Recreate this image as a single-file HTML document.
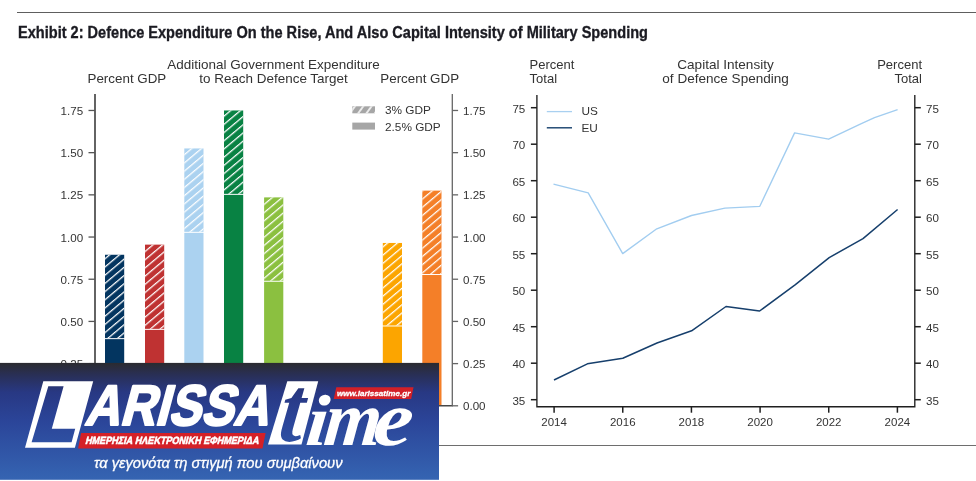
<!DOCTYPE html>
<html><head><meta charset="utf-8"><title>Exhibit 2</title>
<style>
html,body{margin:0;padding:0;background:#fff;}
body{width:976px;height:481px;overflow:hidden;position:relative;}
svg{position:absolute;left:0;top:0;display:block;}
.t{font-family:"Liberation Sans",Arial,sans-serif;fill:#333;}
</style></head><body>
<svg width="976" height="481" viewBox="0 0 976 481">
<defs>
<linearGradient id="lg" gradientUnits="userSpaceOnUse" x1="0" y1="363" x2="0" y2="479.5">
<stop offset="0" stop-color="#2b2b30"/>
<stop offset="0.1" stop-color="#292f55"/>
<stop offset="0.25" stop-color="#283883"/>
<stop offset="0.5" stop-color="#2b4599"/>
<stop offset="1" stop-color="#3564b2"/>
</linearGradient>
<linearGradient id="lgt" href="#lg" gradientUnits="userSpaceOnUse" x1="0" y1="-78" x2="0" y2="38.5"/>
<linearGradient id="lgt2" href="#lg" gradientUnits="userSpaceOnUse" x1="0" y1="-76.7" x2="0" y2="37.5"/>
</defs>

<rect x="17" y="12" width="959" height="1" fill="#5e5e5e"/>
<rect x="17" y="445" width="959" height="1" fill="#6e6e6e"/>
<text x="18" y="37.8" font-family="Liberation Sans, Arial, sans-serif" font-weight="bold" font-size="17.4" fill="#1b1b22" stroke="#1b1b22" stroke-width="0.35" textLength="630" lengthAdjust="spacingAndGlyphs">Exhibit 2: Defence Expenditure On the Rise, And Also Capital Intensity of Military Spending</text>
<defs>
<pattern id="h0" patternUnits="userSpaceOnUse" width="40" height="6.281" patternTransform="translate(105.0,274.3) rotate(-40)"><rect x="0" y="0" width="40" height="1.25" fill="#fff"/></pattern>
<pattern id="h1" patternUnits="userSpaceOnUse" width="40" height="6.281" patternTransform="translate(145.0,291.7) rotate(-40)"><rect x="0" y="0" width="40" height="1.25" fill="#fff"/></pattern>
<pattern id="h2" patternUnits="userSpaceOnUse" width="40" height="6.281" patternTransform="translate(184.3,203.1) rotate(-40)"><rect x="0" y="0" width="40" height="1.25" fill="#fff"/></pattern>
<pattern id="h3" patternUnits="userSpaceOnUse" width="40" height="6.281" patternTransform="translate(224.0,156.3) rotate(-40)"><rect x="0" y="0" width="40" height="1.25" fill="#fff"/></pattern>
<pattern id="h4" patternUnits="userSpaceOnUse" width="40" height="6.281" patternTransform="translate(264.1,244.6) rotate(-40)"><rect x="0" y="0" width="40" height="1.25" fill="#fff"/></pattern>
<pattern id="h5" patternUnits="userSpaceOnUse" width="40" height="6.281" patternTransform="translate(382.8,295.4) rotate(-40)"><rect x="0" y="0" width="40" height="1.25" fill="#fff"/></pattern>
<pattern id="h6" patternUnits="userSpaceOnUse" width="40" height="6.281" patternTransform="translate(422.3,247.5) rotate(-40)"><rect x="0" y="0" width="40" height="1.25" fill="#fff"/></pattern>
<pattern id="hl" patternUnits="userSpaceOnUse" width="40" height="6.7" patternTransform="translate(355.2,106) rotate(-54)"><rect x="0" y="-0.75" width="40" height="1.5" fill="#fff"/><rect x="0" y="5.95" width="40" height="1.5" fill="#fff"/></pattern>
</defs>
<rect x="105.0" y="254.76" width="19.2" height="83.38" fill="#033560"/>
<rect x="105.0" y="254.76" width="19.2" height="83.38" fill="url(#h0)"/>
<rect x="105.0" y="339.14" width="19.2" height="66.66" fill="#033560"/>
<rect x="145.0" y="244.63" width="19.2" height="84.22" fill="#bf3232"/>
<rect x="145.0" y="244.63" width="19.2" height="84.22" fill="url(#h1)"/>
<rect x="145.0" y="329.86" width="19.2" height="75.94" fill="#bf3232"/>
<rect x="184.3" y="148.44" width="19.2" height="83.38" fill="#abd2f0"/>
<rect x="184.3" y="148.44" width="19.2" height="83.38" fill="url(#h2)"/>
<rect x="184.3" y="232.82" width="19.2" height="172.98" fill="#abd2f0"/>
<rect x="224.0" y="110.47" width="19.2" height="83.38" fill="#088243"/>
<rect x="224.0" y="110.47" width="19.2" height="83.38" fill="url(#h3)"/>
<rect x="224.0" y="194.85" width="19.2" height="210.95" fill="#088243"/>
<rect x="264.1" y="197.38" width="19.2" height="83.38" fill="#8bc040"/>
<rect x="264.1" y="197.38" width="19.2" height="83.38" fill="url(#h4)"/>
<rect x="264.1" y="281.76" width="19.2" height="124.04" fill="#8bc040"/>
<rect x="382.8" y="242.95" width="19.2" height="82.54" fill="#fca500"/>
<rect x="382.8" y="242.95" width="19.2" height="82.54" fill="url(#h5)"/>
<rect x="382.8" y="326.48" width="19.2" height="79.32" fill="#fca500"/>
<rect x="422.3" y="190.63" width="19.2" height="83.38" fill="#f47f28"/>
<rect x="422.3" y="190.63" width="19.2" height="83.38" fill="url(#h6)"/>
<rect x="422.3" y="275.01" width="19.2" height="130.79" fill="#f47f28"/>
<g fill="none" stroke-width="1.3">
<path d="M95,94 V405.8" stroke="#222" stroke-width="1.4"/>
<path d="M94.4,405.8 H452.90000000000003" stroke="#484848" stroke-width="1.4"/>
<path d="M452.3,94 V405.8" stroke="#666"/>
<path d="M88.5,405.80 H95" stroke="#555"/>
<path d="M452.3,405.80 H458.1" stroke="#666"/>
<path d="M88.5,363.61 H95" stroke="#555"/>
<path d="M452.3,363.61 H458.1" stroke="#666"/>
<path d="M88.5,321.42 H95" stroke="#555"/>
<path d="M452.3,321.42 H458.1" stroke="#666"/>
<path d="M88.5,279.23 H95" stroke="#555"/>
<path d="M452.3,279.23 H458.1" stroke="#666"/>
<path d="M88.5,237.04 H95" stroke="#555"/>
<path d="M452.3,237.04 H458.1" stroke="#666"/>
<path d="M88.5,194.85 H95" stroke="#555"/>
<path d="M452.3,194.85 H458.1" stroke="#666"/>
<path d="M88.5,152.66 H95" stroke="#555"/>
<path d="M452.3,152.66 H458.1" stroke="#666"/>
<path d="M88.5,110.47 H95" stroke="#555"/>
<path d="M452.3,110.47 H458.1" stroke="#666"/>
</g>
<text class="t" x="83.2" y="410.30" font-size="11.6" text-anchor="end">0.00</text>
<text class="t" x="463" y="410.30" font-size="11.6" text-anchor="start">0.00</text>
<text class="t" x="83.2" y="368.11" font-size="11.6" text-anchor="end">0.25</text>
<text class="t" x="463" y="368.11" font-size="11.6" text-anchor="start">0.25</text>
<text class="t" x="83.2" y="325.92" font-size="11.6" text-anchor="end">0.50</text>
<text class="t" x="463" y="325.92" font-size="11.6" text-anchor="start">0.50</text>
<text class="t" x="83.2" y="283.73" font-size="11.6" text-anchor="end">0.75</text>
<text class="t" x="463" y="283.73" font-size="11.6" text-anchor="start">0.75</text>
<text class="t" x="83.2" y="241.54" font-size="11.6" text-anchor="end">1.00</text>
<text class="t" x="463" y="241.54" font-size="11.6" text-anchor="start">1.00</text>
<text class="t" x="83.2" y="199.35" font-size="11.6" text-anchor="end">1.25</text>
<text class="t" x="463" y="199.35" font-size="11.6" text-anchor="start">1.25</text>
<text class="t" x="83.2" y="157.16" font-size="11.6" text-anchor="end">1.50</text>
<text class="t" x="463" y="157.16" font-size="11.6" text-anchor="start">1.50</text>
<text class="t" x="83.2" y="114.97" font-size="11.6" text-anchor="end">1.75</text>
<text class="t" x="463" y="114.97" font-size="11.6" text-anchor="start">1.75</text>
<text class="t" x="87.5" y="83" font-size="13" text-anchor="start" textLength="78.8" lengthAdjust="spacingAndGlyphs">Percent GDP</text>
<text class="t" x="273.6" y="69" font-size="13" text-anchor="middle" textLength="212.5" lengthAdjust="spacingAndGlyphs">Additional Government Expenditure</text>
<text class="t" x="273.5" y="83" font-size="13" text-anchor="middle" textLength="148.5" lengthAdjust="spacingAndGlyphs">to Reach Defence Target</text>
<text class="t" x="380.3" y="83" font-size="13" text-anchor="start" textLength="78.8" lengthAdjust="spacingAndGlyphs">Percent GDP</text>
<rect x="352.3" y="106.3" width="22.7" height="7" fill="#a6a6a6"/>
<rect x="352.3" y="106.3" width="22.7" height="7" fill="url(#hl)"/>
<rect x="352.3" y="122.6" width="22.7" height="7" fill="#a6a6a6"/>
<text class="t" x="385" y="114.2" font-size="11.8" text-anchor="start">3% GDP</text>
<text class="t" x="385" y="130.5" font-size="11.8" text-anchor="start">2.5% GDP</text>
<g stroke="#1f1f1f" stroke-width="1.3" fill="none">
<path d="M536.9,95 V406.7 H914.8 V95" stroke-width="1.35"/>
<path d="M530.9,399.70 H536.9" stroke-width="1.5"/>
<path d="M914.8,399.70 H920.8" stroke-width="1.5"/>
<path d="M530.9,363.20 H536.9" stroke-width="1.5"/>
<path d="M914.8,363.20 H920.8" stroke-width="1.5"/>
<path d="M530.9,326.70 H536.9" stroke-width="1.5"/>
<path d="M914.8,326.70 H920.8" stroke-width="1.5"/>
<path d="M530.9,290.20 H536.9" stroke-width="1.5"/>
<path d="M914.8,290.20 H920.8" stroke-width="1.5"/>
<path d="M530.9,253.70 H536.9" stroke-width="1.5"/>
<path d="M914.8,253.70 H920.8" stroke-width="1.5"/>
<path d="M530.9,217.20 H536.9" stroke-width="1.5"/>
<path d="M914.8,217.20 H920.8" stroke-width="1.5"/>
<path d="M530.9,180.70 H536.9" stroke-width="1.5"/>
<path d="M914.8,180.70 H920.8" stroke-width="1.5"/>
<path d="M530.9,144.20 H536.9" stroke-width="1.5"/>
<path d="M914.8,144.20 H920.8" stroke-width="1.5"/>
<path d="M530.9,107.70 H536.9" stroke-width="1.5"/>
<path d="M914.8,107.70 H920.8" stroke-width="1.5"/>
<path d="M554.10,406.7 V412.7" stroke-width="1.5"/>
<path d="M622.76,406.7 V412.7" stroke-width="1.5"/>
<path d="M691.42,406.7 V412.7" stroke-width="1.5"/>
<path d="M760.08,406.7 V412.7" stroke-width="1.5"/>
<path d="M828.74,406.7 V412.7" stroke-width="1.5"/>
<path d="M897.40,406.7 V412.7" stroke-width="1.5"/>
</g>
<text class="t" x="525.3" y="404.60" font-size="11.6" text-anchor="end">35</text>
<text class="t" x="926" y="404.60" font-size="11.6" text-anchor="start">35</text>
<text class="t" x="525.3" y="368.10" font-size="11.6" text-anchor="end">40</text>
<text class="t" x="926" y="368.10" font-size="11.6" text-anchor="start">40</text>
<text class="t" x="525.3" y="331.60" font-size="11.6" text-anchor="end">45</text>
<text class="t" x="926" y="331.60" font-size="11.6" text-anchor="start">45</text>
<text class="t" x="525.3" y="295.10" font-size="11.6" text-anchor="end">50</text>
<text class="t" x="926" y="295.10" font-size="11.6" text-anchor="start">50</text>
<text class="t" x="525.3" y="258.60" font-size="11.6" text-anchor="end">55</text>
<text class="t" x="926" y="258.60" font-size="11.6" text-anchor="start">55</text>
<text class="t" x="525.3" y="222.10" font-size="11.6" text-anchor="end">60</text>
<text class="t" x="926" y="222.10" font-size="11.6" text-anchor="start">60</text>
<text class="t" x="525.3" y="185.60" font-size="11.6" text-anchor="end">65</text>
<text class="t" x="926" y="185.60" font-size="11.6" text-anchor="start">65</text>
<text class="t" x="525.3" y="149.10" font-size="11.6" text-anchor="end">70</text>
<text class="t" x="926" y="149.10" font-size="11.6" text-anchor="start">70</text>
<text class="t" x="525.3" y="112.60" font-size="11.6" text-anchor="end">75</text>
<text class="t" x="926" y="112.60" font-size="11.6" text-anchor="start">75</text>
<text class="t" x="554.10" y="426.2" font-size="11.5" text-anchor="middle">2014</text>
<text class="t" x="622.76" y="426.2" font-size="11.5" text-anchor="middle">2016</text>
<text class="t" x="691.42" y="426.2" font-size="11.5" text-anchor="middle">2018</text>
<text class="t" x="760.08" y="426.2" font-size="11.5" text-anchor="middle">2020</text>
<text class="t" x="828.74" y="426.2" font-size="11.5" text-anchor="middle">2022</text>
<text class="t" x="897.40" y="426.2" font-size="11.5" text-anchor="middle">2024</text>
<polyline points="553.5,184.1 588.2,192.9 622.7,253.6 656.8,228.8 691.5,215.5 724.9,208.2 759.8,206.3 794.6,132.9 828.6,139.2 860.8,123.8 874.5,117.7 897.6,109.7" fill="none" stroke="#a2cdf0" stroke-width="1.35" stroke-linejoin="round"/>
<polyline points="554.0,380.0 587.4,363.8 622.8,358.3 657.0,343.0 691.6,330.8 726.0,306.5 759.6,311.0 795.4,284.6 829.2,257.6 863.0,238.6 897.6,209.5" fill="none" stroke="#163f6c" stroke-width="1.5" stroke-linejoin="round"/>
<path d="M546.8,111.6 H572" stroke="#a9d0f0" stroke-width="1.3"/>
<path d="M546.8,127.8 H572" stroke="#153f6b" stroke-width="1.4"/>
<text class="t" x="581.4" y="115.3" font-size="11.8" text-anchor="start">US</text>
<text class="t" x="581.4" y="132.2" font-size="11.8" text-anchor="start">EU</text>
<text class="t" x="529.6" y="69.3" font-size="13" text-anchor="start">Percent</text>
<text class="t" x="529.6" y="83.3" font-size="13" text-anchor="start">Total</text>
<text class="t" x="725.5" y="68.6" font-size="13" text-anchor="middle" textLength="96.5" lengthAdjust="spacingAndGlyphs">Capital Intensity</text>
<text class="t" x="725.6" y="83" font-size="13" text-anchor="middle" textLength="126.5" lengthAdjust="spacingAndGlyphs">of Defence Spending</text>
<text class="t" x="922" y="69.3" font-size="13" text-anchor="end">Percent</text>
<text class="t" x="922" y="83.3" font-size="13" text-anchor="end">Total</text>
<rect x="0" y="362.9" width="439" height="116.9" fill="url(#lg)"/>
<path fill="#fff" fill-rule="evenodd" d="M43.3,381.2 L93.2,381.2 L74.9,447.7 L25,447.7 Z M48.3,386.3 L63.6,386.3 L51.8,428.8 L75.2,428.8 L71.6,442.2 L31.6,442.2 Z"/>
<g transform="translate(84,425.2) skewX(-15)"><text x="0" y="0" font-family="Liberation Sans, Arial, sans-serif" font-weight="bold" font-size="57" fill="#fff" stroke="#fff" stroke-width="2.2" stroke-linejoin="round" textLength="184" lengthAdjust="spacingAndGlyphs">ARISSA</text></g>
<polygon points="81.1,433.1 265.6,433.1 262.5,448.5 78.1,448.5" fill="#d42027"/>
<g transform="translate(85,444.4) skewX(-14)"><text x="0" y="0" font-family="Liberation Sans, Arial, sans-serif" font-weight="bold" font-size="10.4" fill="#fff" stroke="#fff" stroke-width="0.55" textLength="173.5" lengthAdjust="spacingAndGlyphs">ΗΜΕΡΗΣΙΑ ΗΛΕΚΤΡΟΝΙΚΗ ΕΦΗΜΕΡΙΔΑ</text></g>
<polygon points="287.3,381.3 318.2,381.3 301.5,444.6 268,444.6" fill="#fff"/>
<g transform="translate(277.3,441.2) skewX(-7) scale(0.92,1.02)"><text x="0" y="0" font-family="Liberation Serif, Times New Roman, serif" font-weight="bold" font-style="italic" font-size="92" fill="url(#lgt2)">t</text></g>
<g transform="translate(0,444.5) skewX(-6)">
<g transform="translate(304.5,0) scale(1,0.93)"><text x="0" y="0" font-family="Liberation Serif, Times New Roman, serif" font-weight="bold" font-style="italic" font-size="78" fill="#fff">i</text></g>
<text x="322.5" y="0" font-family="Liberation Serif, Times New Roman, serif" font-weight="bold" font-style="italic" font-size="78" fill="#fff" textLength="57" lengthAdjust="spacingAndGlyphs">m</text>
<text x="371.5" y="0" font-family="Liberation Serif, Times New Roman, serif" font-weight="bold" font-style="italic" font-size="78" fill="#fff" textLength="39.5" lengthAdjust="spacingAndGlyphs">e</text>
</g>
<polygon points="336.3,387.2 413.5,387.2 411.2,398.9 333.7,398.9" fill="#d32027"/>
<text x="336.9" y="396" font-family="Liberation Sans, Arial, sans-serif" font-weight="bold" font-style="italic" font-size="8" fill="#fff" stroke="#fff" stroke-width="0.3" textLength="73.4" lengthAdjust="spacingAndGlyphs">www.larissatime.gr</text>
<text x="94" y="468.1" font-family="Liberation Sans, Arial, sans-serif" font-style="italic" font-size="14.4" fill="#fff" stroke="#fff" stroke-width="0.3" textLength="248.5" lengthAdjust="spacingAndGlyphs">τα γεγονότα τη στιγμή που συμβαίνουν</text>
</svg>
</body></html>
